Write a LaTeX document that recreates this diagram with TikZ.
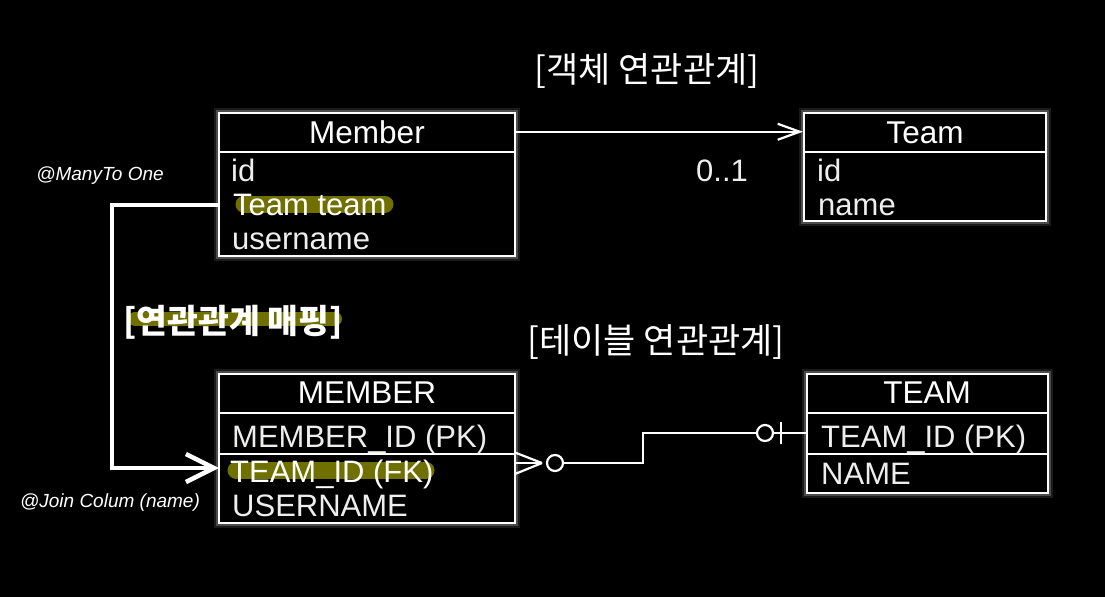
\documentclass[tikz,border=0pt]{standalone}
\usepackage{fontspec}
\setmainfont{Liberation Sans}
\newfontfamily\kr{Noto Sans CJK KR}
\usetikzlibrary{arrows.meta}
\definecolor{hl}{RGB}{112,112,0}
\definecolor{txt}{RGB}{238,238,238}
\begin{document}
\begin{tikzpicture}[x=1pt,y=-1pt,
  box/.style={draw=white, fill=black, line width=2.2pt, inner sep=0pt,
    preaction={draw=white, draw opacity=0.10, line width=10pt},
    preaction={draw=white, draw opacity=0.22, line width=6pt}},
  divider/.style={draw=white, line width=2.2pt},
  row/.style={anchor=base west, inner sep=0pt, text=txt, font=\fontsize{31}{31}\selectfont},
  head/.style={anchor=base, inner sep=0pt, text=white, font=\fontsize{31.5}{31.5}\selectfont},
  hilite/.style={draw=hl, line width=17pt, line cap=round},
  er/.style={draw=white, line width=2.2pt},
  circ/.style={circle, draw=white, line width=2.2pt, minimum size=16pt, inner sep=0pt, fill=black},
  title/.style={text=white, inner sep=0pt, font=\kr\fontsize{35}{35}\selectfont},
  note/.style={text=white, inner sep=0pt, font=\itshape\fontsize{19}{19}\selectfont},
  bigarr/.style={draw=white, line width=4.5pt, line join=miter,
    -{Straight Barb[length=28pt,width=28pt,line width=4.5pt]}},
  objarr/.style={draw=white, line width=2.2pt,
    -{Straight Barb[length=22pt,width=16pt,line width=2.2pt]}}
]
\useasboundingbox (0,0) rectangle (1105,597);
\fill[black] (0,0) rectangle (1105,597);

% titles
\node[title] (t1) at (647,71) {[객체 연관관계]};
\node[title] (t2) at (656,342) {[테이블 연관관계]};

% boxes
\node[box, minimum width=296pt, minimum height=143pt] (member) at (367,184.5) {};
\node[box, minimum width=242pt, minimum height=108pt] (team) at (925,167) {};
\node[box, minimum width=296pt, minimum height=149pt] (MEMBER) at (367,448.5) {};
\node[box, minimum width=241pt, minimum height=119pt] (TEAM) at (927.5,433.5) {};

\draw[divider] (219,152) -- (515,152);
\draw[divider] (804,152) -- (1046,152);
\draw[divider] (219,413) -- (515,413);
\draw[divider] (219,454) -- (515,454);
\draw[divider] (807,413) -- (1048,413);
\draw[divider] (807,454) -- (1048,454);

% highlights
\draw[hilite] (244,204) -- (385,204);
\draw[hilite] (236,470) -- (426,470);
\draw[hilite, line width=14pt] (135,318.5) -- (335,318.5);

% header texts
\node[head] (memberH) at (367,143) {Member};
\node[head] (teamH) at (925,143) {Team};
\node[head] (MEMBERH) at (367,403) {MEMBER};
\node[head] (TEAMH) at (927,403) {TEAM};

% rows
\node[row] (mid) at (231,181) {id};
\node[row, text=white] (mteam) at (233,215) {Team team};
\node[row] (muser) at (232,249) {username};
\node[row] (tid) at (817,181) {id};
\node[row] (tname) at (818,215) {name};
\node[row] (Mid) at (232,447) {MEMBER\_ID (PK)};
\node[row, text=white] (fk) at (230,482) {TEAM\_ID (FK)};
\node[row] (Muser) at (232,516) {USERNAME};
\node[row] (Tid) at (821,447) {TEAM\_ID (PK)};
\node[row] (Tname) at (821,484) {NAME};

% object association
\draw[objarr] (member.east |- memberH.center) -- (team.west |- memberH.center);
\node[anchor=base, inner sep=0pt, text=txt, font=\fontsize{31}{31}\selectfont] (mult) at (722,181) {0..1};

% mapping arrow
\coordinate (s1) at (219,205);
\coordinate (e1) at (219,468);
\draw[bigarr] (s1) -- (112,205) |- (e1);
\node[inner sep=0pt, text=white, font=\kr\bfseries\fontsize{33.5}{33.5}\selectfont] (maplabel) at (233,322) {[연관관계 매핑]};

% notes
\node[note] (n1) at (100,176) {@ManyTo One};
\node[note] (n2) at (110,503) {@Join Colum (name)};

% ER connector
\coordinate (cf1) at (515,452.5);
\coordinate (cf2) at (515,463);
\coordinate (cf3) at (515,474);
\coordinate (cft) at (542,463);
\draw[er] (cf1) -- (cft);
\draw[er] (cf2) -- (cft);
\draw[er] (cf3) -- (cft);
\node[circ] (o1) at (555,463) {};
\node[circ] (o2) at (765,433) {};
\draw[er] (o1.east) -- (643,463) |- (o2.west);
\draw[er] (o2.east) -- (TEAM.west |- o2.center);
\coordinate (bt) at (781,422);
\coordinate (bb) at (781,444);
\draw[er] (bt) -- (bb);
\end{tikzpicture}
\end{document}
